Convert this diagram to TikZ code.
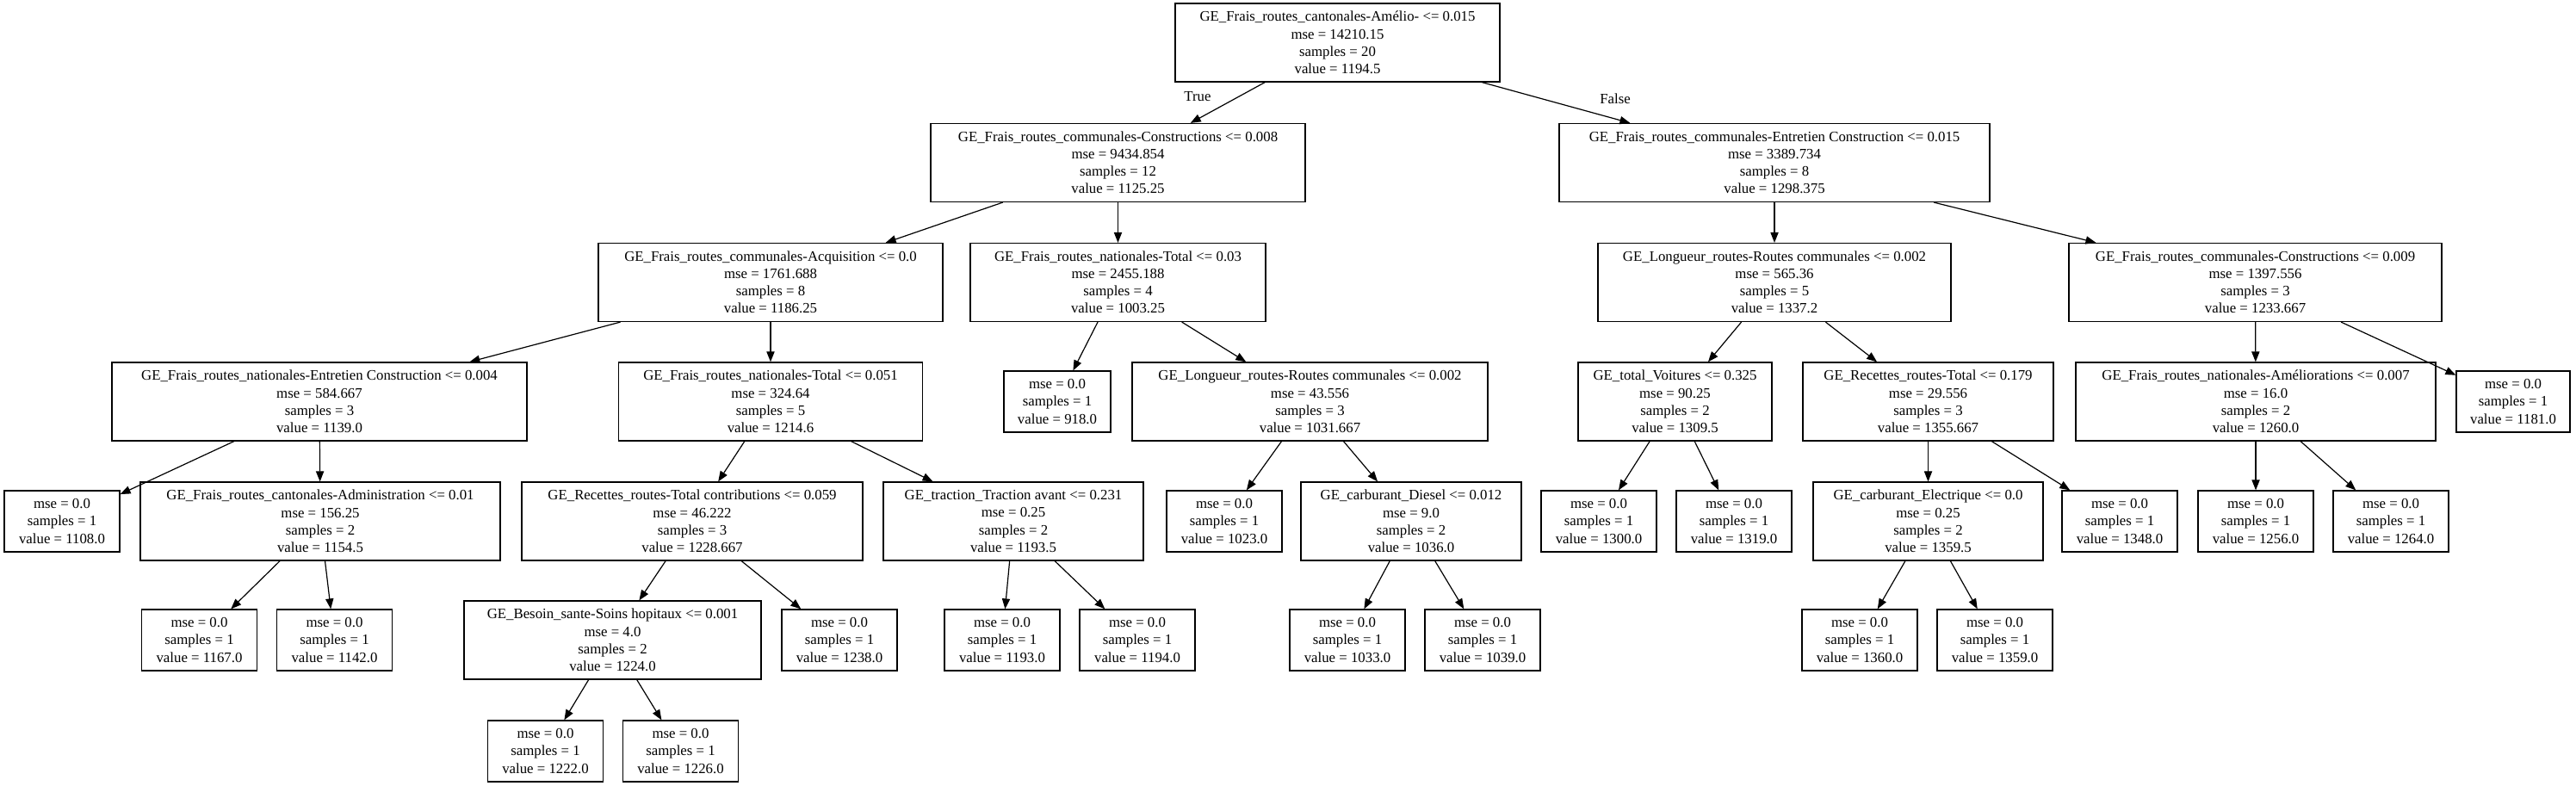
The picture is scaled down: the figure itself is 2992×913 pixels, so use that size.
\documentclass[tikz,border=0pt]{standalone}
\usepackage{fontspec}
\setmainfont{Liberation Serif}
\usetikzlibrary{arrows.meta}
\begin{document}
\begin{tikzpicture}[x=0.5pt,y=-0.5pt,
 box/.style={draw=black, line width=0.6pt, rectangle, align=center, inner sep=0pt, font=\fontsize{8.4}{10.08}\selectfont},
 inode/.style={box, minimum height=45.5pt, minimum width=#1*0.5pt},
 lnode/.style={box, minimum height=35.5pt, minimum width=#1*0.5pt},
 lnode/.default=134,
 edge/.style={-{Triangle[length=6pt,width=4.6pt]}, line width=0.6pt},
 lbl/.style={font=\fontsize{8.4}{10.08}\selectfont, inner sep=0pt}]
\fill[white] (0,0) rectangle (2992,913);
\useasboundingbox (0,0) rectangle (2992,913);
% row 0
\node[inode=377] (root) at (1553.5,49.5) {GE\_Frais\_routes\_cantonales-Amélio- <= 0.015\\mse = 14210.15\\samples = 20\\value = 1194.5};
% row 1
\node[inode=435] (n1) at (1298.5,189) {GE\_Frais\_routes\_communales-Constructions <= 0.008\\mse = 9434.854\\samples = 12\\value = 1125.25};
\node[inode=500] (n2) at (2061,189) {GE\_Frais\_routes\_communales-Entretien Construction <= 0.015\\mse = 3389.734\\samples = 8\\value = 1298.375};
% row 2
\node[inode=400] (n3) at (895,328) {GE\_Frais\_routes\_communales-Acquisition <= 0.0\\mse = 1761.688\\samples = 8\\value = 1186.25};
\node[inode=343] (n4) at (1298.5,328) {GE\_Frais\_routes\_nationales-Total <= 0.03\\mse = 2455.188\\samples = 4\\value = 1003.25};
\node[inode=410] (n5) at (2061,328) {GE\_Longueur\_routes-Routes communales <= 0.002\\mse = 565.36\\samples = 5\\value = 1337.2};
\node[inode=433] (n6) at (2619.5,328) {GE\_Frais\_routes\_communales-Constructions <= 0.009\\mse = 1397.556\\samples = 3\\value = 1233.667};
% row 3
\node[inode=482] (n7) at (371,466.5) {GE\_Frais\_routes\_nationales-Entretien Construction <= 0.004\\mse = 584.667\\samples = 3\\value = 1139.0};
\node[inode=353] (n8) at (895,466.5) {GE\_Frais\_routes\_nationales-Total <= 0.051\\mse = 324.64\\samples = 5\\value = 1214.6};
\node[lnode=124] (n9) at (1228,466.5) {mse = 0.0\\samples = 1\\value = 918.0};
\node[inode=413] (n10) at (1521.5,466.5) {GE\_Longueur\_routes-Routes communales <= 0.002\\mse = 43.556\\samples = 3\\value = 1031.667};
\node[inode=225] (n11) at (1945.5,466.5) {GE\_total\_Voitures <= 0.325\\mse = 90.25\\samples = 2\\value = 1309.5};
\node[inode=291] (n12) at (2239.5,466.5) {GE\_Recettes\_routes-Total <= 0.179\\mse = 29.556\\samples = 3\\value = 1355.667};
\node[inode=418] (n13) at (2620,466.5) {GE\_Frais\_routes\_nationales-Améliorations <= 0.007\\mse = 16.0\\samples = 2\\value = 1260.0};
\node[lnode=132] (n14) at (2919,466.5) {mse = 0.0\\samples = 1\\value = 1181.0};
% row 4
\node[lnode] (n15) at (72,605.5) {mse = 0.0\\samples = 1\\value = 1108.0};
\node[inode=418] (n16) at (372,605.5) {GE\_Frais\_routes\_cantonales-Administration <= 0.01\\mse = 156.25\\samples = 2\\value = 1154.5};
\node[inode=396] (n17) at (804,605.5) {GE\_Recettes\_routes-Total contributions <= 0.059\\mse = 46.222\\samples = 3\\value = 1228.667};
\node[inode=302] (n18) at (1177,605.5) {GE\_traction\_Traction avant <= 0.231\\mse = 0.25\\samples = 2\\value = 1193.5};
\node[lnode] (n19) at (1422,605.5) {mse = 0.0\\samples = 1\\value = 1023.0};
\node[inode=256] (n20) at (1639,605.5) {GE\_carburant\_Diesel <= 0.012\\mse = 9.0\\samples = 2\\value = 1036.0};
\node[lnode] (n21) at (1857,605.5) {mse = 0.0\\samples = 1\\value = 1300.0};
\node[lnode] (n22) at (2014,605.5) {mse = 0.0\\samples = 1\\value = 1319.0};
\node[inode=267] (n23) at (2239.5,605.5) {GE\_carburant\_Electrique <= 0.0\\mse = 0.25\\samples = 2\\value = 1359.5};
\node[lnode] (n24) at (2462,605.5) {mse = 0.0\\samples = 1\\value = 1348.0};
\node[lnode] (n25) at (2620,605.5) {mse = 0.0\\samples = 1\\value = 1256.0};
\node[lnode] (n26) at (2777,605.5) {mse = 0.0\\samples = 1\\value = 1264.0};
% row 5
\node[lnode] (n27) at (231.5,743.5) {mse = 0.0\\samples = 1\\value = 1167.0};
\node[lnode] (n28) at (388.5,743.5) {mse = 0.0\\samples = 1\\value = 1142.0};
\node[inode=345] (n29) at (711.5,743.5) {GE\_Besoin\_sante-Soins hopitaux <= 0.001\\mse = 4.0\\samples = 2\\value = 1224.0};
\node[lnode] (n30) at (975,743.5) {mse = 0.0\\samples = 1\\value = 1238.0};
\node[lnode] (n31) at (1164,743.5) {mse = 0.0\\samples = 1\\value = 1193.0};
\node[lnode] (n32) at (1321,743.5) {mse = 0.0\\samples = 1\\value = 1194.0};
\node[lnode] (n33) at (1565,743.5) {mse = 0.0\\samples = 1\\value = 1033.0};
\node[lnode] (n34) at (1722,743.5) {mse = 0.0\\samples = 1\\value = 1039.0};
\node[lnode] (n35) at (2160,743.5) {mse = 0.0\\samples = 1\\value = 1360.0};
\node[lnode] (n36) at (2317,743.5) {mse = 0.0\\samples = 1\\value = 1359.0};
% row 6
\node[lnode] (n37) at (633.5,872.5) {mse = 0.0\\samples = 1\\value = 1222.0};
\node[lnode] (n38) at (790.5,872.5) {mse = 0.0\\samples = 1\\value = 1226.0};
% edges
\draw[edge] (root) -- (n1);
\draw[edge] (root) -- (n2);
\node[lbl] (tlab) at (1391,112) {True};
\node[lbl] (flab) at (1876,115) {False};
\foreach \a/\b in {n1/n3,n1/n4,n2/n5,n2/n6,n3/n7,n3/n8,n4/n9,n4/n10,n5/n11,n5/n12,n6/n13,n6/n14,n7/n15,n7/n16,n8/n17,n8/n18,n10/n19,n10/n20,n11/n21,n11/n22,n12/n23,n12/n24,n13/n25,n13/n26,n16/n27,n16/n28,n17/n29,n17/n30,n18/n31,n18/n32,n20/n33,n20/n34,n23/n35,n23/n36,n29/n37,n29/n38}
  \draw[edge] (\a) -- (\b);
\end{tikzpicture}
\end{document}
